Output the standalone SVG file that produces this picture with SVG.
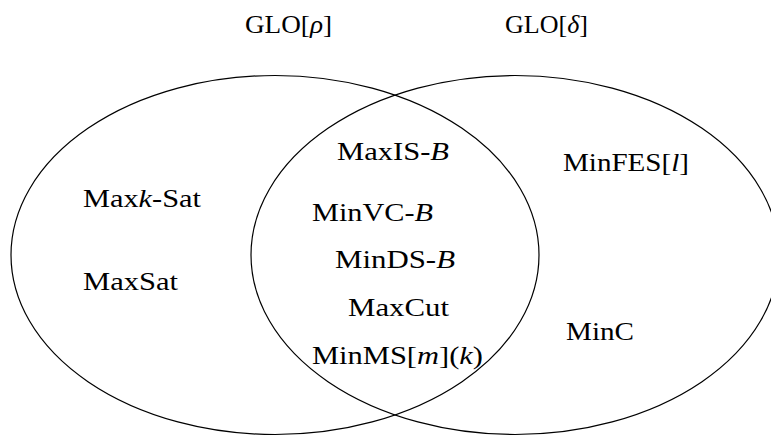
<svg xmlns="http://www.w3.org/2000/svg" width="771" height="436" viewBox="0 0 771 436">
<style>
.set{fill:none;stroke:#000;stroke-width:1.2}
.t{font-family:"Liberation Serif","Times New Roman",serif;font-size:25px;fill:#000}
.i{font-style:italic}
</style>
<rect width="771" height="436" fill="#fff"/>
<g id="set-rho">
<ellipse class="set" cx="275" cy="255" rx="264" ry="179.5"/>
<text class="t" x="245" y="33" textLength="87" lengthAdjust="spacingAndGlyphs">GLO[<tspan class="i">ρ</tspan>]</text>
</g>
<g id="set-delta">
<ellipse class="set" cx="515" cy="255" rx="264" ry="179.5"/>
<text class="t" x="505" y="33" textLength="83" lengthAdjust="spacingAndGlyphs">GLO[<tspan class="i">δ</tspan>]</text>
</g>
<g id="maxksat"><text class="t" x="83" y="207" textLength="118" lengthAdjust="spacingAndGlyphs">Max<tspan class="i">k</tspan>-Sat</text></g>
<g id="maxsat"><text class="t" x="83" y="290" textLength="95" lengthAdjust="spacingAndGlyphs">MaxSat</text></g>
<g id="maxisb"><text class="t" x="337" y="160" textLength="112" lengthAdjust="spacingAndGlyphs">MaxIS-<tspan class="i">B</tspan></text></g>
<g id="minvcb"><text class="t" x="312" y="221" textLength="121" lengthAdjust="spacingAndGlyphs">MinVC-<tspan class="i">B</tspan></text></g>
<g id="mindsb"><text class="t" x="335" y="268" textLength="120" lengthAdjust="spacingAndGlyphs">MinDS-<tspan class="i">B</tspan></text></g>
<g id="maxcut"><text class="t" x="348" y="316" textLength="101" lengthAdjust="spacingAndGlyphs">MaxCut</text></g>
<g id="minms"><text class="t" x="312" y="364" textLength="171" lengthAdjust="spacingAndGlyphs">MinMS[<tspan class="i">m</tspan>](<tspan class="i">k</tspan>)</text></g>
<g id="minfes"><text class="t" x="563" y="171" textLength="126" lengthAdjust="spacingAndGlyphs">MinFES[<tspan class="i">l</tspan>]</text></g>
<g id="minc"><text class="t" x="566" y="340" textLength="68" lengthAdjust="spacingAndGlyphs">MinC</text></g>
<g id="connectors"></g>
</svg>
